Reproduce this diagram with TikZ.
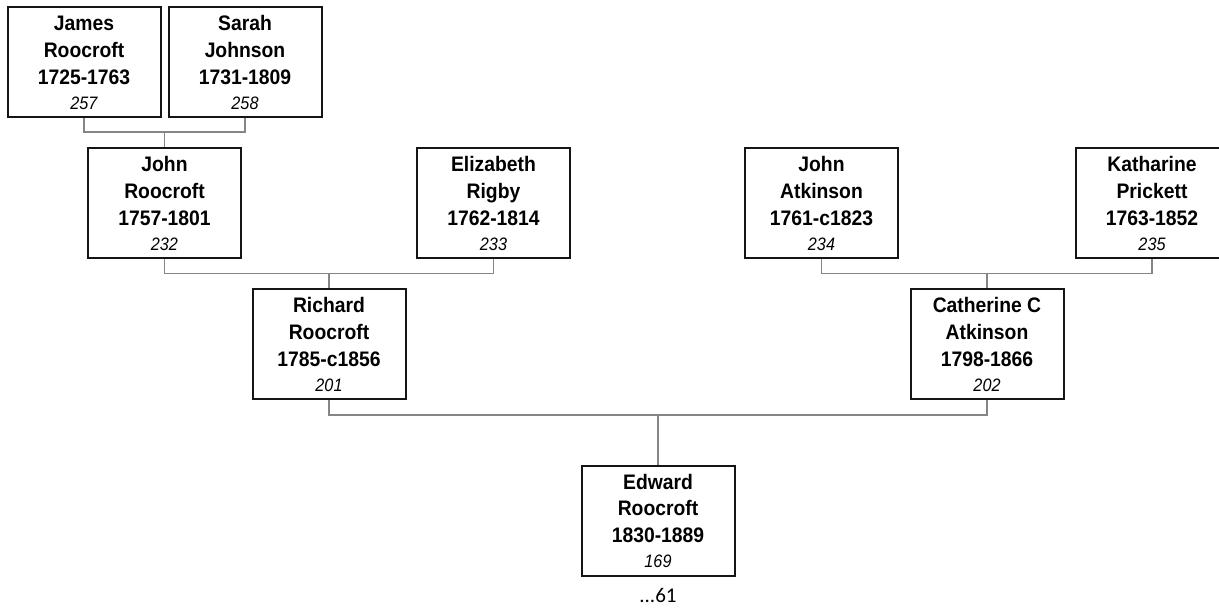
\documentclass[tikz,border=0pt]{standalone}
\usepackage{fontspec}
\setmainfont{Liberation Sans}
\newfontfamily\namefont[FakeStretch=0.92]{Liberation Sans}
\newfontfamily\numfont[FakeStretch=0.9]{Liberation Sans}
\newfontfamily\carlito{Carlito}
\newcommand\pbox[4]{\parbox[c][110pt][t]{153pt}{\centering\namefont\fontsize{21}{26.7}\selectfont\bfseries\rule{0pt}{23.7pt}#1\\#2\\#3\\[-1.7pt]{\numfont\fontsize{18}{25}\selectfont\mdseries\itshape #4}}}
\definecolor{conncol}{HTML}{858585}
\definecolor{boxcol}{HTML}{151515}
\tikzset{
  person/.style={draw=boxcol, line width=2pt, inner sep=0pt, fill=white},
  conn/.style={draw=conncol, line width=1.8pt},
}
\begin{document}
\begin{tikzpicture}[x=1pt,y=-1pt]
\useasboundingbox (0,0) rectangle (1219,608);
% people
\node[person] (james) at (84,62) {\pbox{James}{Roocroft}{1725-1763}{257}};
\node[person] (sarah) at (245,62) {\pbox{Sarah}{Johnson}{1731-1809}{258}};
\node[person] (johnr) at (164.5,203) {\pbox{John}{Roocroft}{1757-1801}{232}};
\node[person] (eliz) at (493.5,203) {\pbox{Elizabeth}{Rigby}{1762-1814}{233}};
\node[person] (johna) at (821.5,203) {\pbox{John}{Atkinson}{1761-c1823}{234}};
\node[person] (kath) at (1152,203) {\pbox{Katharine}{Prickett}{1763-1852}{235}};
\node[person] (rich) at (329,344) {\pbox{Richard}{Roocroft}{1785-c1856}{201}};
\node[person] (cath) at (987,344) {\pbox{Catherine C}{Atkinson}{1798-1866}{202}};
\node[person] (edw) at (658,520.5) {\pbox{Edward}{Roocroft}{1830-1889}{169}};
\node[anchor=base, inner sep=0pt, font=\carlito\fontsize{21}{24}\selectfont] (more) at (658,602) {...61};
% junction points
\coordinate (j1) at (164.5,132);
\coordinate (j2) at (329,273.5);
\coordinate (j3) at (987,273.5);
\coordinate (j4) at (658,415);
% connectors
\draw[conn] (james.south) |- (j1) -| (sarah.south);
\draw[conn] (j1) -- (johnr.north);
\draw[conn] (johnr.south) |- (j2) -| (eliz.south);
\draw[conn] (j2) -- (rich.north);
\draw[conn] (johna.south) |- (j3) -| (kath.south);
\draw[conn] (j3) -- (cath.north);
\draw[conn] (rich.south) |- (j4) -| (cath.south);
\draw[conn] (j4) -- (edw.north);
\end{tikzpicture}
\end{document}
